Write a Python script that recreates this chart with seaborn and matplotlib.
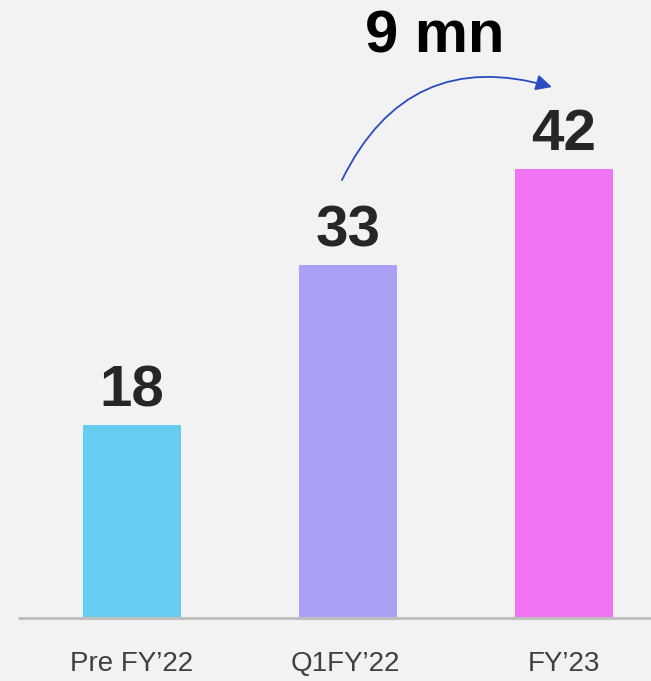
import matplotlib
matplotlib.use("Agg")
import matplotlib.pyplot as plt
import seaborn as sns
import pandas as pd
from matplotlib.patches import FancyArrowPatch

# data
categories = ["Pre FY\u201922", "Q1FY\u201922", "FY\u201923"]
values = [18, 33, 42]
bar_colors = ["#66CDF1", "#AAA0F6", "#EF75F5"]
growth_label = "9 mn"

BG = "#F2F2F2"

sns.set_theme(style="white")
plt.rcParams["font.family"] = ["Liberation Sans", "DejaVu Sans"]

fig = plt.figure(figsize=(6.51, 6.81), dpi=100, facecolor=BG)
ax = fig.add_axes([0, 0, 1, 1])
ax.set_facecolor(BG)

df = pd.DataFrame({"cat": categories, "val": values})
sns.barplot(data=df, x="cat", y="val", hue="cat", palette=bar_colors,
            width=0.45, legend=False, ax=ax, saturation=1, linewidth=0)

# pixel-mapped limits
ax.set_xlim(-0.611, 2.403)
ax.set_ylim(-5.89, 57.76)
for s in ax.spines.values():
    s.set_visible(False)
ax.set_xticks([])
ax.set_yticks([])
ax.set_xlabel("")
ax.set_ylabel("")

# baseline
ax.plot([-0.528, 2.45], [0, 0], color="#BFBFBF", lw=2.2, solid_capstyle="butt",
        clip_on=False, zorder=1)

# value labels
for i, v in enumerate(values):
    ax.annotate(str(v), (i, v), xytext=(0, 13.5), textcoords="offset points",
                ha="center", va="baseline", fontsize=42, fontweight="bold",
                color="#262626")

# category labels
for i, c in enumerate(categories):
    ax.text(i - (0.012 if i == 1 else 0), -4.3, c, ha="center", va="center",
            fontsize=20, color="#404040")

# growth arrow
x0, y0 = (342 - 132) / 216, (681 - 180 - 63) / 10.7
x1, y1 = (552 - 132) / 216, (681 - 87 - 63) / 10.7
arrow = FancyArrowPatch((x0, y0), (x1, y1), connectionstyle="arc3,rad=-0.42",
                        arrowstyle="-|>,head_length=8,head_width=4",
                        color="#2B4CC0", lw=1.3, mutation_scale=1.2,
                        shrinkA=0, shrinkB=0)
ax.add_patch(arrow)

ax.text((435 - 132) / 216, (681 - 37 - 63) / 10.7, growth_label,
        ha="center", va="center", fontsize=43, fontweight="bold", color="#000000")

fig.savefig("out.png", dpi=100, facecolor=BG)
